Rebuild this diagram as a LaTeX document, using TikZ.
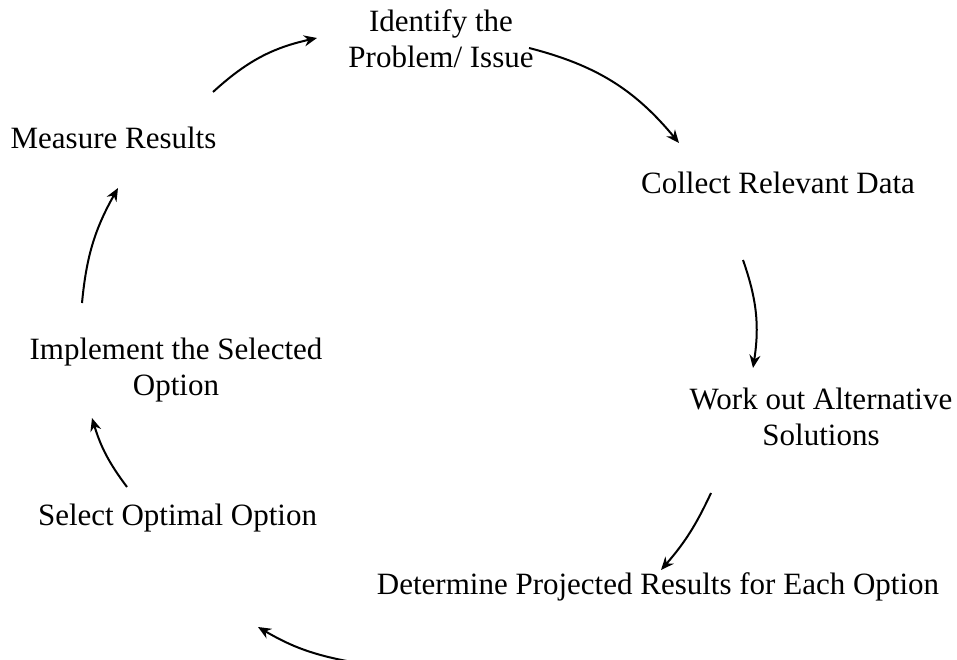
\documentclass[tikz,border=0pt]{standalone}
\usepackage{fontspec}
\setmainfont{Liberation Serif}
\usetikzlibrary{arrows.meta}
\begin{document}
\begin{tikzpicture}[x=1pt,y=-1pt,
  stage/.style={anchor=north,inner sep=0pt,align=center,
    font=\fontsize{31}{36}\selectfont,execute at begin node=\strut},
  cyc/.style={line width=2pt,-{Stealth[length=13pt,width=11pt]}}]
\useasboundingbox (0,0) rectangle (957,660);

% stages of the cycle
\node[stage] (identify)  at (441,9.8)   {Identify the\\Problem/ Issue};
\node[stage] (collect)   at (778,167.8) {Collect Relevant Data};
\node[stage] (workout)   at (821,387.8) {Work out Alternative\\Solutions};
\node[stage] (determine) at (658,569)   {Determine Projected Results for Each Option};
\node[stage] (select)    at (177.5,500) {Select Optimal Option};
\node[stage] (implement) at (176,338)   {Implement the Selected\\Option};
\node[stage] (measure)   at (113.5,123.5) {Measure Results};

% arrow end points
\coordinate (a1s) at (213,92);  \coordinate (a1e) at (317,38);
\coordinate (a2s) at (529,48);  \coordinate (a2e) at (679,143);
\coordinate (a3s) at (743,260); \coordinate (a3e) at (753,368);
\coordinate (a4s) at (711,493); \coordinate (a4e) at (661,570);
\coordinate (a5s) at (352,662); \coordinate (a5e) at (258,627);
\coordinate (a6s) at (127,487); \coordinate (a6e) at (92,418);
\coordinate (a7s) at (82,303);  \coordinate (a7e) at (118,188);

% clockwise connectors
\draw[cyc] (a1s) to[bend left=15] (a1e);
\draw[cyc] (a2s) to[bend left=18] (a2e);
\draw[cyc] (a3s) to[bend left=14] (a3e);
\draw[cyc] (a4s) to[bend left=8]  (a4e);
\draw[cyc] (a5s) to[bend left=10] (a5e);
\draw[cyc] (a6s) to[bend left=10] (a6e);
\draw[cyc] (a7s) to[bend left=12] (a7e);
\end{tikzpicture}
\end{document}
